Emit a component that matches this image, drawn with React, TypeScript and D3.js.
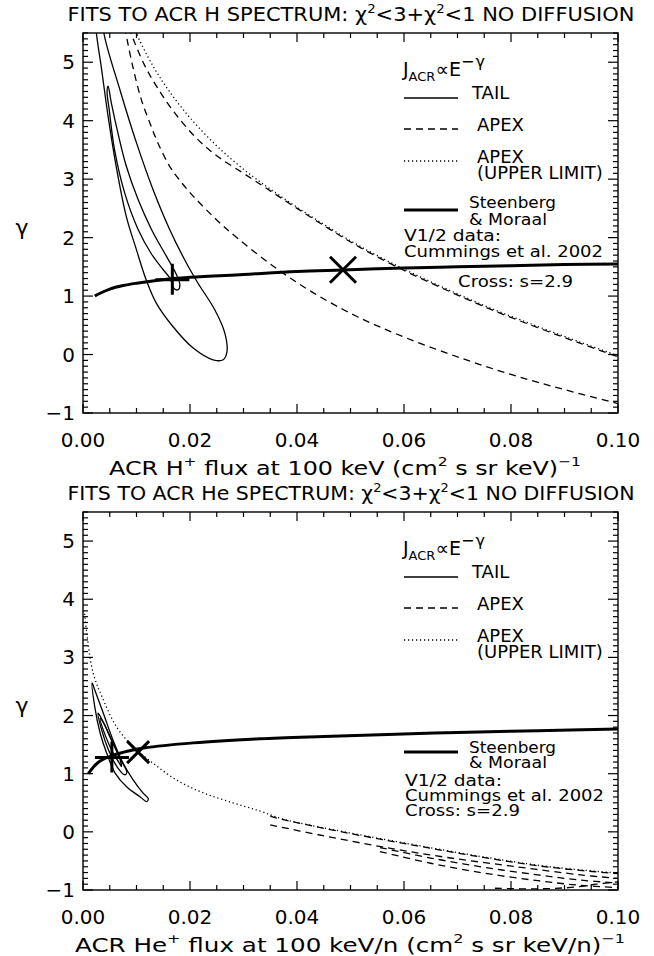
import React from 'react';
import * as d3 from 'd3';

type P = [number, number];

// ---------- axis ticks ----------
const xTickValues = [0, 0.02, 0.04, 0.06, 0.08, 0.1];
const xTickLabels = ['0.00', '0.02', '0.04', '0.06', '0.08', '0.10'];
const yTickValues = [-1, 0, 1, 2, 3, 4, 5];
const yTickLabels = ['\u22121', '0', '1', '2', '3', '4', '5'];

// ---------- top panel (H) ----------
const hTailOuter: P[] = [
  [0.0021, 6.0], [0.0025, 5.5], [0.0034, 4.93], [0.0047, 4.07], [0.0062, 3.22], [0.0081, 2.36],
  [0.0100, 1.79], [0.0118, 1.28], [0.0137, 0.88], [0.0168, 0.48], [0.0206, 0.11], [0.0243, -0.09],
  [0.0262, -0.09], [0.0269, 0.04], [0.0265, 0.37], [0.0246, 0.77], [0.0215, 1.22], [0.0193, 1.57],
  [0.0162, 2.14], [0.0131, 2.82], [0.0100, 3.62], [0.0069, 4.53], [0.0039, 5.5], [0.0035, 6.0],
];
const hTailInner: P[] = [
  [0.0047, 4.59], [0.0053, 4.30], [0.0065, 3.80], [0.0081, 3.22], [0.0103, 2.65], [0.0128, 2.14],
  [0.0156, 1.68], [0.0173, 1.40], [0.0181, 1.20], [0.0178, 1.11], [0.0170, 1.13], [0.0163, 1.30],
  [0.0150, 1.45], [0.0128, 1.72], [0.0103, 2.14], [0.0078, 2.76], [0.0059, 3.50], [0.0049, 4.19],
  [0.0045, 4.50],
];
const hApexLower: P[] = [
  [0.0078, 5.6], [0.0080, 5.5], [0.0093, 4.93], [0.0109, 4.36], [0.0125, 3.96], [0.0140, 3.62],
  [0.0162, 3.22], [0.0180, 2.99], [0.0206, 2.71], [0.0249, 2.31], [0.0290, 1.98], [0.0362, 1.47],
  [0.0430, 1.06], [0.0512, 0.65], [0.0600, 0.30], [0.0700, -0.04], [0.0800, -0.34], [0.0900, -0.60],
  [0.1000, -0.84],
];
const hApexUpper: P[] = [
  [0.0088, 5.6], [0.0090, 5.5], [0.0115, 4.95], [0.0140, 4.55], [0.0170, 4.15], [0.0210, 3.72],
  [0.0250, 3.40], [0.0300, 3.10], [0.0350, 2.80], [0.0400, 2.50], [0.0460, 2.15], [0.0520, 1.82],
  [0.0600, 1.44], [0.0680, 1.10], [0.0760, 0.78], [0.0850, 0.46], [0.0930, 0.19], [0.1000, -0.04],
];
const hApexUpperLimit: P[] = [
  [0.0098, 5.6], [0.0100, 5.5], [0.0130, 4.95], [0.0160, 4.52], [0.0200, 4.05], [0.0250, 3.57],
  [0.0300, 3.17], [0.0350, 2.83], [0.0400, 2.52], [0.0460, 2.17], [0.0520, 1.84], [0.0600, 1.46],
  [0.0680, 1.12], [0.0760, 0.80], [0.0850, 0.48], [0.0930, 0.21], [0.1000, -0.02],
];
const hSteenberg: P[] = [
  [0.0022, 1.0], [0.0030, 1.04], [0.0050, 1.12], [0.0075, 1.18], [0.0100, 1.22], [0.0144, 1.275],
  [0.0200, 1.32], [0.0300, 1.37], [0.0400, 1.42], [0.0486, 1.446], [0.0600, 1.48], [0.0700, 1.50],
  [0.0800, 1.52], [0.0900, 1.54], [0.1000, 1.55],
];
const hCross: P = [0.0486, 1.45];
const hPlus: P = [0.0167, 1.28];

// ---------- bottom panel (He) ----------
const heTailOuter: P[] = [
  [0.0017, 2.56], [0.0022, 2.15], [0.0032, 1.70], [0.0044, 1.36], [0.0060, 1.01], [0.0082, 0.77],
  [0.0107, 0.60], [0.0119, 0.52], [0.0122, 0.57], [0.0112, 0.67], [0.0094, 0.89], [0.0075, 1.18],
  [0.0056, 1.58], [0.0038, 2.04], [0.0022, 2.44],
];
const heTailMid: P[] = [
  [0.0028, 2.04], [0.0035, 1.75], [0.0048, 1.40], [0.0065, 1.10], [0.0078, 0.98], [0.0082, 1.02],
  [0.0070, 1.25], [0.0055, 1.55], [0.0040, 1.85], [0.0030, 2.02],
];
const heTailInner: P[] = [
  [0.0032, 1.95], [0.0042, 1.65], [0.0055, 1.38], [0.0068, 1.18], [0.0072, 1.12], [0.0068, 1.28],
  [0.0052, 1.60], [0.0038, 1.88],
];
const heApexUpperLimit: P[] = [
  [0.0003, 3.75], [0.0007, 3.42], [0.0019, 2.73], [0.0038, 2.27], [0.0063, 1.80], [0.0094, 1.46],
  [0.0131, 1.18], [0.0175, 0.89], [0.0225, 0.67], [0.0280, 0.50], [0.0330, 0.36], [0.0374, 0.22],
  [0.0500, -0.02], [0.0624, -0.23], [0.0748, -0.43], [0.0873, -0.60], [0.1000, -0.71],
];
const heApex1: P[] = [
  [0.0350, 0.27], [0.0374, 0.21], [0.0500, -0.03], [0.0624, -0.24], [0.0748, -0.44], [0.0873, -0.61],
  [0.1000, -0.72],
];
const heApex2: P[] = [
  [0.0350, 0.12], [0.0440, -0.05], [0.0560, -0.26], [0.0680, -0.44], [0.0810, -0.60], [0.0930, -0.74],
  [0.1000, -0.80],
];
const heApex3: P[] = [
  [0.0555, -0.27], [0.0650, -0.45], [0.0750, -0.61], [0.0850, -0.74], [0.0930, -0.83], [0.1000, -0.88],
];
const heApex4: P[] = [
  [0.0555, -0.34], [0.0650, -0.54], [0.0750, -0.71], [0.0850, -0.84], [0.0930, -0.92], [0.1000, -0.96],
];
const heApex5: P[] = [
  [0.0770, -0.97], [0.0850, -0.98], [0.0920, -0.95], [0.0960, -0.90], [0.1000, -0.86],
];
const heSteenberg: P[] = [
  [0.0010, 1.0], [0.0020, 1.12], [0.0032, 1.22], [0.0057, 1.32], [0.0085, 1.39], [0.0113, 1.44],
  [0.0206, 1.53], [0.0330, 1.60], [0.0450, 1.64], [0.0555, 1.67], [0.0700, 1.71], [0.0850, 1.74],
  [0.1000, 1.77],
];
const heCross: P = [0.0103, 1.37];
const hePlus: P = [0.0054, 1.28];

const FONT = "'DejaVu Sans', sans-serif";
const X0 = 83;
const X1 = 618;

type Curve = { pts: P[]; closed?: boolean; dash?: string; width?: number };

function Panel(props: {
  id: string;
  top: number;
  bottom: number;
  curves: Curve[];
  cross: P;
  crossSize: number;
  plus: P;
  children?: React.ReactNode;
}) {
  const { id, top, bottom, curves, cross, crossSize, plus } = props;
  const x = d3.scaleLinear().domain([0, 0.1]).range([X0, X1]);
  const y = d3.scaleLinear().domain([-1, 5.5]).range([bottom, top]);
  const open = d3.line<P>().x((d) => x(d[0])).y((d) => y(d[1])).curve(d3.curveCatmullRom.alpha(0.5));
  const closed = d3.line<P>().x((d) => x(d[0])).y((d) => y(d[1])).curve(d3.curveCatmullRomClosed.alpha(0.5));
  const xMinor = d3.range(0, 0.10001, 0.005);
  const yMinor = d3.range(-1, 5.5001, 0.1);
  const [cx, cy] = [x(cross[0]), y(cross[1])];
  const [px, py] = [x(plus[0]), y(plus[1])];
  return (
    <g>
      <defs>
        <clipPath id={id}>
          <rect x={X0} y={top} width={X1 - X0} height={bottom - top} />
        </clipPath>
      </defs>
      <g clipPath={`url(#${id})`} fill="none" stroke="#000">
        {curves.map((c, i) => (
          <path
            key={i}
            d={(c.closed ? closed : open)(c.pts) || ''}
            strokeWidth={c.width ?? 1.3}
            strokeDasharray={c.dash}
          />
        ))}
        <path d={`M${cx - crossSize},${cy - crossSize}L${cx + crossSize},${cy + crossSize}M${cx - crossSize},${cy + crossSize}L${cx + crossSize},${cy - crossSize}`} strokeWidth={3} />
        <path d={`M${px},${py - 16}L${px},${py + 15}M${px - 17},${py}L${px + 17},${py}`} strokeWidth={3} />
      </g>
      {/* frame */}
      <rect x={X0} y={top} width={X1 - X0} height={bottom - top} fill="none" stroke="#000" strokeWidth={1.4} />
      <g stroke="#000" strokeWidth={1.2}>
        {xMinor.map((v, i) => {
          const major = i % 4 === 0;
          const L = major ? 9 : 5;
          return (
            <g key={'x' + i}>
              <line x1={x(v)} x2={x(v)} y1={bottom} y2={bottom - L} />
              <line x1={x(v)} x2={x(v)} y1={top} y2={top + L} />
            </g>
          );
        })}
        {yMinor.map((v, i) => {
          const major = i % 10 === 0;
          const L = major ? 10 : 5;
          return (
            <g key={'y' + i}>
              <line x1={X0} x2={X0 + L} y1={y(v)} y2={y(v)} />
              <line x1={X1} x2={X1 - L} y1={y(v)} y2={y(v)} />
            </g>
          );
        })}
      </g>
      <g fontFamily={FONT} fontSize={20} fill="#000">
        {xTickValues.map((v, i) => (
          <text key={'xl' + i} x={x(v)} y={bottom + 34} textAnchor="middle">{xTickLabels[i]}</text>
        ))}
        {yTickValues.map((v, i) => (
          <text key={'yl' + i} x={75} y={y(v) + 7} textAnchor="end">{yTickLabels[i]}</text>
        ))}
        <text x={22} y={(top + bottom) / 2 + 12} textAnchor="middle" fontSize={22}>γ</text>
      </g>
      {props.children}
    </g>
  );
}

function LegendKey(props: { y: number; dash?: string; width?: number }) {
  return (
    <line x1={404} x2={458} y1={props.y} y2={props.y} stroke="#000" strokeWidth={props.width ?? 1.3} strokeDasharray={props.dash} />
  );
}

function JLabel(props: { y: number }) {
  return (
    <text x={403} y={props.y} fontFamily={FONT} fontSize={19}>
      J<tspan fontSize={13} dy={5}>ACR</tspan>
      <tspan fontSize={19} dy={-5}>∝E</tspan>
      <tspan fontSize={16} dy={-9} letterSpacing={1}>−γ</tspan>
    </text>
  );
}

// legend line of text with the reference's tight leading
function LT(props: { x: number; y: number; w: number; children: React.ReactNode }) {
  return (
    <text x={props.x} y={props.y} fontFamily={FONT} fontSize={16} textLength={props.w} lengthAdjust="spacingAndGlyphs">
      {props.children}
    </text>
  );
}

export default function App() {
  const DASH = '7,5';
  const DOT = '1.2,2.8';
  const topCurves: Curve[] = [
    { pts: hTailOuter, closed: true },
    { pts: hTailInner, closed: true },
    { pts: hApexLower, dash: DASH },
    { pts: hApexUpper, dash: DASH },
    { pts: hApexUpperLimit, dash: DOT },
    { pts: hSteenberg, width: 3 },
  ];
  const botCurves: Curve[] = [
    { pts: heTailOuter, closed: true },
    { pts: heTailMid, closed: true },
    { pts: heTailInner, closed: true },
    { pts: heApexUpperLimit, dash: DOT },
    { pts: heApex1, dash: DASH },
    { pts: heApex2, dash: DASH },
    { pts: heApex3, dash: DASH },
    { pts: heApex4, dash: DASH },
    { pts: heApex5, dash: DASH },
    { pts: heSteenberg, width: 3 },
  ];
  const T = { fontFamily: FONT, fontSize: 18 } as const;
  return (
    <svg width={654} height={956} viewBox="0 0 654 956" style={{ display: 'block', position: 'absolute', left: 0, top: 0, background: '#fff' }}>
      <rect width={654} height={956} fill="#fff" />
      {/* titles */}
      <text x={351} y={21} textAnchor="middle" fontFamily={FONT} fontSize={19} textLength={567} lengthAdjust="spacingAndGlyphs">
        FITS TO ACR H SPECTRUM: χ<tspan fontSize={12} dy={-8}>2</tspan><tspan dy={8}>&lt;3+χ</tspan><tspan fontSize={12} dy={-8}>2</tspan><tspan dy={8}>&lt;1 NO DIFFUSION</tspan>
      </text>
      <text x={351} y={500} textAnchor="middle" fontFamily={FONT} fontSize={19} textLength={567} lengthAdjust="spacingAndGlyphs">
        FITS TO ACR He SPECTRUM: χ<tspan fontSize={12} dy={-8}>2</tspan><tspan dy={8}>&lt;3+χ</tspan><tspan fontSize={12} dy={-8}>2</tspan><tspan dy={8}>&lt;1 NO DIFFUSION</tspan>
      </text>
      <text x={345} y={475} textAnchor="middle" fontFamily={FONT} fontSize={20} textLength={472} lengthAdjust="spacingAndGlyphs">
        ACR H<tspan fontSize={13} dy={-9}>+</tspan><tspan dy={9}> flux at 100 keV (cm</tspan><tspan fontSize={13} dy={-9}>2</tspan><tspan dy={9}> s sr keV)</tspan><tspan fontSize={13} dy={-9}>−1</tspan>
      </text>
      <text x={350} y={952} textAnchor="middle" fontFamily={FONT} fontSize={20} textLength={550} lengthAdjust="spacingAndGlyphs">
        ACR He<tspan fontSize={13} dy={-9}>+</tspan><tspan dy={9}> flux at 100 keV/n (cm</tspan><tspan fontSize={13} dy={-9}>2</tspan><tspan dy={9}> s sr keV/n)</tspan><tspan fontSize={13} dy={-9}>−1</tspan>
      </text>

      <Panel id="clipTop" top={33} bottom={413} curves={topCurves} cross={hCross} crossSize={13} plus={hPlus}>
        <JLabel y={76} />
        <LegendKey y={98} />
        <text {...T} x={472} y={99}>TAIL</text>
        <LegendKey y={129} dash={DASH} />
        <text {...T} x={477} y={131}>APEX</text>
        <LegendKey y={161} dash={DOT} />
        <text {...T} x={477} y={163}>APEX</text>
        <text {...T} x={477} y={179}>(UPPER LIMIT)</text>
        <LegendKey y={210} width={3} />
        <LT x={469} y={208} w={87}>Steenberg</LT>
        <LT x={469} y={225} w={78}>&amp; Moraal</LT>
        <LT x={404} y={241} w={97}>V1/2 data:</LT>
        <LT x={404} y={257} w={199}>Cummings et al. 2002</LT>
        <LT x={458} y={287} w={115}>Cross: s=2.9</LT>
      </Panel>

      <Panel id="clipBot" top={512} bottom={890} curves={botCurves} cross={heCross} crossSize={11} plus={hePlus}>
        <JLabel y={555} />
        <LegendKey y={577} />
        <text {...T} x={472} y={578}>TAIL</text>
        <LegendKey y={608} dash={DASH} />
        <text {...T} x={477} y={610}>APEX</text>
        <LegendKey y={640} dash={DOT} />
        <text {...T} x={477} y={642}>APEX</text>
        <text {...T} x={477} y={658}>(UPPER LIMIT)</text>
        <LegendKey y={752} width={3} />
        <LT x={469} y={753} w={87}>Steenberg</LT>
        <LT x={469} y={768} w={78}>&amp; Moraal</LT>
        <LT x={405} y={786} w={97}>V1/2 data:</LT>
        <LT x={405} y={801} w={199}>Cummings et al. 2002</LT>
        <LT x={405} y={816} w={115}>Cross: s=2.9</LT>
      </Panel>
    </svg>
  );
}
